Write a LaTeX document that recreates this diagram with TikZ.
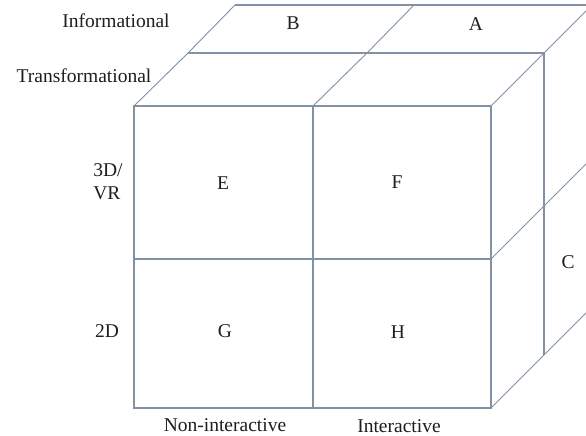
\documentclass[tikz,border=0pt]{standalone}
\usepackage{fontspec}
\setmainfont{Liberation Serif}
\definecolor{edge}{RGB}{128,146,164}
\definecolor{ink}{RGB}{30,30,30}
\begin{document}
\begin{tikzpicture}[x=1pt,y=-1pt,
  frontline/.style={draw=edge,line width=1.3pt},
  depthline/.style={draw=edge,line width=0.9pt},
  lbl/.style={text=ink,font=\fontsize{19.5}{23}\selectfont,inner sep=0pt,align=center}]
\useasboundingbox (0,0) rectangle (586,436);
\clip (0,0) rectangle (586,436);
\fill[white] (0,0) rectangle (586,436);
% front layer
\coordinate (f00) at (134,106); \coordinate (f10) at (313,106); \coordinate (f20) at (491,106);
\coordinate (f01) at (134,259); \coordinate (f11) at (313,259); \coordinate (f21) at (491,259);
\coordinate (f02) at (134,408); \coordinate (f12) at (313,408); \coordinate (f22) at (491,408);
% middle layer
\coordinate (m00) at (188,53); \coordinate (m10) at (367,53); \coordinate (m20) at (544,53);
\coordinate (m21) at (544,206); \coordinate (m22) at (544,355);
% back layer
\coordinate (b00) at (235,5); \coordinate (b10) at (414,5); \coordinate (b20) at (592,5);
\coordinate (b21) at (592,158); \coordinate (b22) at (592,307);
% top and right faces
\draw[depthline] (f00) -- (m00) -- (b00);
\draw[depthline] (f10) -- (m10) -- (b10);
\draw[depthline] (f20) -- (m20) -- (b20);
\draw[depthline] (f21) -- (m21) -- (b21);
\draw[depthline] (f22) -- (m22) -- (b22);
\draw[frontline] (m00) -- (m10) -- (m20);
\draw[frontline] (b00) -- (b10) -- (b20);
\draw[frontline] (m20) -- (m21) -- (m22);
\draw[frontline] (b20) -- (b21) -- (b22);
% front face
\draw[frontline] (f00) -- (f10) -- (f20) -- (f21) -- (f22) -- (f12) -- (f02) -- (f01) -- cycle;
\draw[frontline] (f10) -- (f11) -- (f12);
\draw[frontline] (f01) -- (f11) -- (f21);
% labels
\node[lbl] (info) at (116,21) {Informational};
\node[lbl] (trans) at (84,76) {Transformational};
\node[lbl] (B) at (293,23) {B};
\node[lbl] (A) at (476,24) {A};
\node[lbl] (E) at (223,183) {E};
\node[lbl] (F) at (397,182) {F};
\node[lbl] (G) at (225,331) {G};
\node[lbl] (H) at (398,332) {H};
\node[lbl,align=left] (vr) at (108,182) {3D/\\VR};
\node[lbl] (twod) at (107,331) {2D};
\node[lbl] (C) at (568,262) {C};
\node[lbl] (nonint) at (225,425) {Non-interactive};
\node[lbl] (int) at (399,426) {Interactive};
\end{tikzpicture}
\end{document}
